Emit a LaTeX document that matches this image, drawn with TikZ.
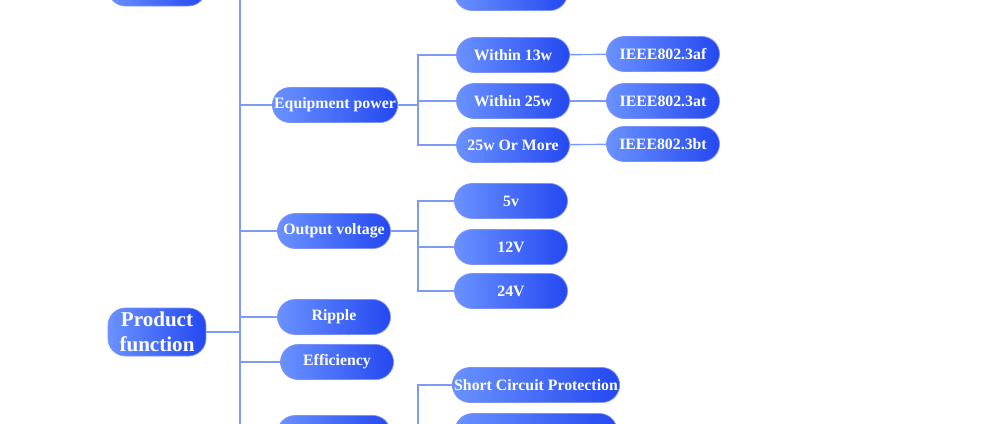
\documentclass[tikz,border=0pt]{standalone}
\usepackage{fontspec}
\setmainfont{Liberation Serif}
\definecolor{boxlight}{HTML}{6A92FF}
\definecolor{boxdark}{HTML}{2448F0}
\definecolor{wire}{HTML}{7D9AF5}
\begin{document}
\begin{tikzpicture}[x=0.02cm,y=-0.02cm,
  leaf/.style={rounded corners=10pt,left color=boxlight,right color=boxdark,draw=boxdark!60,
    text=white,font=\bfseries\small,minimum width=113*0.02cm,minimum height=35*0.02cm,inner sep=1pt},
  root/.style={leaf,font=\bfseries\large,minimum width=98*0.02cm,minimum height=48*0.02cm,align=center,text width=80*0.02cm},
  link/.style={draw=wire,line width=0.8pt}]
  \useasboundingbox (0,0) rectangle (1000,423);
  \clip (0,0) rectangle (1000,423);
  % roots
  \node[root] (top) at (157,-18) {};
  \node[root] (prod) at (157,332) {Product\\function};
  % first level
  \node[leaf] (toph) at (511,-7) {};
  \node[leaf] (equip) at (335,105) {Equipment power};
  \node[leaf] (outv) at (334,231) {Output voltage};
  \node[leaf] (ripple) at (334,317) {Ripple};
  \node[leaf] (eff) at (337,362) {Efficiency};
  \node[leaf] (prot) at (334,433) {};
  % power classes
  \node[leaf] (w13) at (513,55) {Within 13w};
  \node[leaf] (w25) at (513,101) {Within 25w};
  \node[leaf] (wmore) at (513,145) {25w Or More};
  \node[leaf] (af) at (663,54) {IEEE802.3af};
  \node[leaf] (at) at (663,101) {IEEE802.3at};
  \node[leaf] (bt) at (663,144) {IEEE802.3bt};
  % voltages
  \node[leaf] (v5) at (511,201) {5v};
  \node[leaf] (v12) at (511,247) {12V};
  \node[leaf] (v24) at (511,291) {24V};
  % protections
  \node[leaf,minimum width=162*0.02cm] (scp) at (536,385) {Short Circuit Protection};
  \node[leaf,minimum width=162*0.02cm] (ovp) at (536,431) {};
  % trunk
  \coordinate (tk) at (240,-40);
  \coordinate (tb) at (240,440);
  \draw[link] (tk) -- (tb);
  \draw[link] (prod.east) -- (prod.east -| tk);
  \foreach \n in {equip,outv,ripple,eff,prot}
    \draw[link] (\n.west) -- (\n.west -| tk);
  % sub trees
  \draw[link] (equip.east) -- (418,105);
  \draw[link] (w13.west) -| (418,145) -- (wmore.west);
  \draw[link] (w25.west) -- (418,101);
  \draw[link] (outv.east) -- (418,231);
  \draw[link] (v5.west) -| (418,291) -- (v24.west);
  \draw[link] (v12.west) -- (418,247);
  \draw[link] (scp.west) -| (418,440);
  \draw[link] (w13) -- (af);
  \draw[link] (w25) -- (at);
  \draw[link] (wmore) -- (bt);
\end{tikzpicture}
\end{document}
